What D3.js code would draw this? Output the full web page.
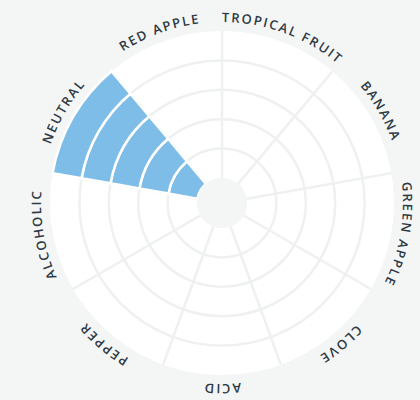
<!DOCTYPE html>
<html>
<head>
<meta charset="utf-8">
<script src="https://cdn.jsdelivr.net/npm/d3@7"></script>
<style>
  html, body { margin: 0; padding: 0; background: #f4f6f6; }
  svg { display: block; }
</style>
</head>
<body>
<div id="myGraph"></div>
<script>
// 데이터
var categories = ["TROPICAL FRUIT", "BANANA", "GREEN APPLE", "CLOVE", "ACID", "PEPPER", "ALCOHOLIC", "NEUTRAL", "RED APPLE"];
var values = [0, 0, 0, 0, 0, 0, 0, 5, 0];
var levels = [1, 2, 3, 4, 5];

var width = 420,
    height = 400,
    cx = 222,
    cy = 203,
    innerR = 25,
    outerR = 172,
    labelR = 181;

var angle = d3.scaleBand()
    .domain(categories)
    .range([0, 2 * Math.PI]);

var radius = d3.scaleLinear()
    .domain([0, 5])
    .range([innerR, outerR]);

var svg = d3.select("#myGraph").append("svg")
    .attr("width", width)
    .attr("height", height);

var g = svg.append("g")
    .attr("transform", "translate(" + cx + "," + cy + ")");

// 바탕 원
g.append("circle")
    .attr("r", outerR)
    .attr("fill", "#fff");

g.append("circle")
    .attr("r", innerR)
    .attr("fill", "#f4f6f6");

// 그리드 원
g.selectAll(".ring")
    .data(levels.slice(0, -1))
    .enter().append("circle")
    .attr("class", "ring")
    .attr("r", function(d) { return radius(d); })
    .attr("fill", "none")
    .attr("stroke", "#eef1f0")
    .attr("stroke-width", 2.5);

// 방사선
g.selectAll(".spoke")
    .data(categories)
    .enter().append("line")
    .attr("class", "spoke")
    .attr("x1", function(d) { return innerR * Math.sin(angle(d)); })
    .attr("y1", function(d) { return -innerR * Math.cos(angle(d)); })
    .attr("x2", function(d) { return outerR * Math.sin(angle(d)); })
    .attr("y2", function(d) { return -outerR * Math.cos(angle(d)); })
    .attr("stroke", "#eef1f0")
    .attr("stroke-width", 2.5);

// 값 막대 (단계별 조각)
var arc = d3.arc();
var pieces = [];
categories.forEach(function(c, i) {
  for (var k = 0; k < values[i]; k++) {
    pieces.push({cat: c, lo: k, hi: k + 1});
  }
});

g.selectAll(".piece")
    .data(pieces)
    .enter().append("path")
    .attr("class", "piece")
    .attr("d", function(d) {
      return arc({
        innerRadius: radius(d.lo),
        outerRadius: radius(d.hi),
        startAngle: angle(d.cat),
        endAngle: angle(d.cat) + angle.bandwidth()
      });
    })
    .attr("fill", "#7dbde8")
    .attr("stroke", "#fff")
    .attr("stroke-width", 2.5);

g.append("circle")
    .attr("r", innerR)
    .attr("fill", "#f4f6f6");

// 라벨
g.append("path")
    .attr("id", "labelPath")
    .attr("fill", "none")
    .attr("d", "M0," + (-labelR) +
      " A" + labelR + "," + labelR + " 0 1 1 0," + labelR +
      " A" + labelR + "," + labelR + " 0 1 1 0," + (-labelR));

g.selectAll(".label")
    .data(categories)
    .enter().append("text")
    .attr("class", "label")
    .style("font-family", "'Open Sans', sans-serif")
    .style("font-size", "13px")
    .style("font-weight", 600)
    .style("letter-spacing", "1.8px")
    .attr("fill", "#2f3a44")
    .append("textPath")
    .attr("href", "#labelPath")
    .attr("text-anchor", "middle")
    .attr("startOffset", function(d) {
      return ((angle(d) + angle.bandwidth() / 2) / (2 * Math.PI) * 100) + "%";
    })
    .text(function(d) { return d; });
</script>
</body>
</html>
